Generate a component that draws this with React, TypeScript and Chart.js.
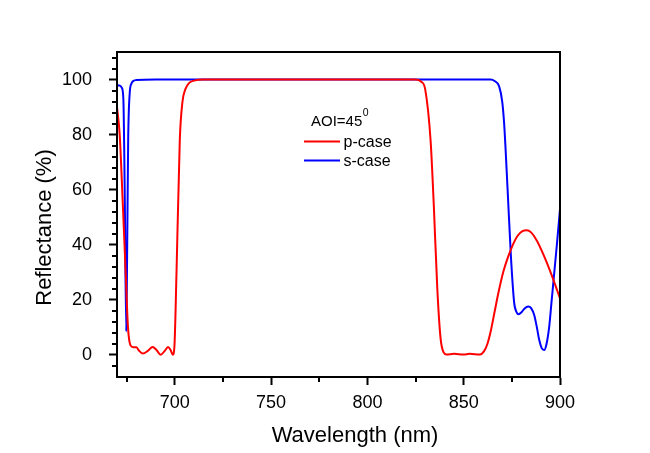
import React, { useEffect, useRef } from "react";
import { Chart, registerables } from "chart.js";
Chart.register(...registerables);

const pWavelength = [670, 671.4, 673, 674.5, 675.7, 677, 678.5, 680, 681.5, 683.5, 686, 688.5, 690.5, 692.7, 694.8, 696.5, 697.8, 699, 699.8, 700.9, 702.6, 704, 705.5, 707.5, 710, 715, 825, 828, 830, 832.8, 834.5, 836.3, 838, 839.5, 841, 845, 850, 853, 858.5, 860.5, 862.3, 864, 866, 868, 870.5, 873, 875.5, 878, 880.5, 882.8, 885, 888, 891.8, 896.2, 900];
const pReflectance = [90, 80, 55, 30, 10, 3.5, 2.8, 2.8, 1.5, 0.5, 1.5, 2.9, 1.8, 0.1, 1.5, 2.9, 1.8, 0.1, 3, 30, 78, 92, 96.5, 98.8, 99.6, 100, 100, 99.2, 96.5, 78, 54, 24, 6, 1, 0.2, 0.4, 0.2, 0.4, 0.2, 1.3, 4, 8.5, 15.5, 22.5, 30, 35.5, 40, 43.3, 45, 45.3, 44.5, 41.5, 35.8, 28, 20.5];
const sWavelength = [670, 671.5, 672.5, 673.3, 674, 674.8, 675.3, 675.8, 676.6, 677.5, 678.5, 680, 690, 864, 866, 868.4, 870, 871, 872.8, 874.5, 876.2, 877.5, 878.5, 880, 881.5, 883.5, 885, 886.6, 888, 889.2, 890.5, 891.8, 893, 894.4, 895.7, 897, 898.5, 900];
const sReflectance = [98, 97.8, 97, 93, 60, 8.5, 40, 78, 95, 98.5, 99.5, 99.8, 100, 100, 99.5, 97.5, 92, 84, 60, 36, 19, 15.5, 14.8, 15.5, 16.8, 17.6, 17, 14.5, 10, 5.5, 2.5, 1.8, 4, 10.3, 20, 29.7, 41, 53];

const seriesLabels = ["p-case", "s-case"];
const seriesColors = ["#ff0000", "#0000ff"];
const xMajorTicks = [700, 750, 800, 850, 900];
const xMinorTicks = [675, 725, 775, 825, 875];
const yMajorTicks = [0, 20, 40, 60, 80, 100];
const yMinorTicks = [-4, 4, 8, 12, 16, 24, 28, 32, 36, 44, 48, 52, 56, 64, 68, 72, 76, 84, 88, 92, 96, 104, 108];
const xRange = [670, 900];
const yRange = [-8, 110];
const xTitle = "Wavelength (nm)";
const yTitle = "Reflectance (%)";
const legendHeader = "AOI=45";
const legendSup = "0";

const FONT = "'Liberation Sans', Arial, sans-serif";

const decorPlugin = {
  id: "decor",
  afterDatasetsDraw(chart: any) {
    const { ctx, chartArea, scales } = chart;
    const { left, right, top, bottom } = chartArea;
    ctx.save();
    ctx.strokeStyle = "#000";
    ctx.lineWidth = 2;
    ctx.strokeRect(left, top, right - left, bottom - top);
    // minor ticks
    ctx.beginPath();
    for (const v of yMinorTicks) {
      const y = Math.round(scales.y.getPixelForValue(v));
      ctx.moveTo(left - 5, y);
      ctx.lineTo(left, y);
    }
    for (const v of xMinorTicks) {
      const x = Math.round(scales.x.getPixelForValue(v));
      ctx.moveTo(x, bottom);
      ctx.lineTo(x, bottom + 5);
    }
    ctx.stroke();

    // axis titles
    ctx.fillStyle = "#000";
    ctx.font = `22px ${FONT}`;
    ctx.textAlign = "center";
    ctx.textBaseline = "alphabetic";
    ctx.fillText(xTitle, 355, 441.5);
    ctx.save();
    ctx.translate(50.5, 227.5);
    ctx.rotate(-Math.PI / 2);
    ctx.fillText(yTitle, 0, 0);
    ctx.restore();

    // legend
    ctx.textAlign = "left";
    ctx.font = `15px ${FONT}`;
    ctx.fillText(legendHeader, 311, 125.5);
    const w = ctx.measureText(legendHeader).width;
    ctx.font = `10.5px ${FONT}`;
    ctx.fillText(legendSup, 311 + w + 0.5, 115.5);
    const rows = [141.5, 160.5];
    chart.data.datasets.forEach((ds: any, i: number) => {
      ctx.strokeStyle = ds.borderColor;
      ctx.lineWidth = 2;
      ctx.beginPath();
      ctx.moveTo(304, rows[i]);
      ctx.lineTo(340, rows[i]);
      ctx.stroke();
      ctx.fillStyle = "#000";
      ctx.font = `16px ${FONT}`;
      ctx.textBaseline = "middle";
      ctx.fillText(ds.label, 343.5, rows[i] + 1);
      ctx.textBaseline = "alphabetic";
    });
    ctx.restore();
  },
};

export default function App() {
  const ref = useRef<HTMLCanvasElement>(null);
  useEffect(() => {
    document.body.style.margin = "0";
    const canvas = ref.current!;
    const chart = new Chart(canvas, {
      type: "line",
      data: {
        datasets: [
          {
            label: seriesLabels[0],
            data: pWavelength.map((x, i) => ({ x, y: pReflectance[i] })),
            borderColor: seriesColors[0],
            borderWidth: 2,
            pointRadius: 0,
            cubicInterpolationMode: "monotone",
            fill: false,
          },
          {
            label: seriesLabels[1],
            data: sWavelength.map((x, i) => ({ x, y: sReflectance[i] })),
            borderColor: seriesColors[1],
            borderWidth: 2,
            pointRadius: 0,
            cubicInterpolationMode: "monotone",
            fill: false,
          },
        ],
      },
      options: {
        responsive: false,
        animation: false,
        devicePixelRatio: 1,
        layout: { padding: { left: 0, right: 90, top: 52, bottom: 0 } },
        plugins: { legend: { display: false }, tooltip: { enabled: false } },
        scales: {
          x: {
            type: "linear",
            min: xRange[0],
            max: xRange[1],
            afterBuildTicks: (axis: any) => {
              axis.ticks = xMajorTicks.map((value) => ({ value }));
            },
            afterFit: (scale: any) => {
              scale.height = 453 - 377;
            },
            grid: {
              drawOnChartArea: false,
              drawTicks: true,
              tickLength: 8,
              tickColor: "#000",
              tickWidth: 2,
            },
            border: { display: true, color: "#000", width: 2 },
            ticks: {
              color: "#000",
              padding: 7,
              maxRotation: 0,
              autoSkip: false,
              font: { family: FONT, size: 18 },
            },
            title: { display: false },
          },
          y: {
            type: "linear",
            min: yRange[0],
            max: yRange[1],
            afterBuildTicks: (axis: any) => {
              axis.ticks = yMajorTicks.map((value) => ({ value }));
            },
            afterFit: (scale: any) => {
              scale.width = 117;
            },
            grid: {
              drawOnChartArea: false,
              drawTicks: true,
              tickLength: 8,
              tickColor: "#000",
              tickWidth: 2,
            },
            border: { display: true, color: "#000", width: 2 },
            ticks: {
              color: "#000",
              padding: 17,
              autoSkip: false,
              font: { family: FONT, size: 18 },
            },
            title: { display: false },
          },
        },
      },
      plugins: [decorPlugin],
    } as any);
    return () => chart.destroy();
  }, []);
  return <canvas ref={ref} width={650} height={453} style={{ display: "block" }} />;
}
